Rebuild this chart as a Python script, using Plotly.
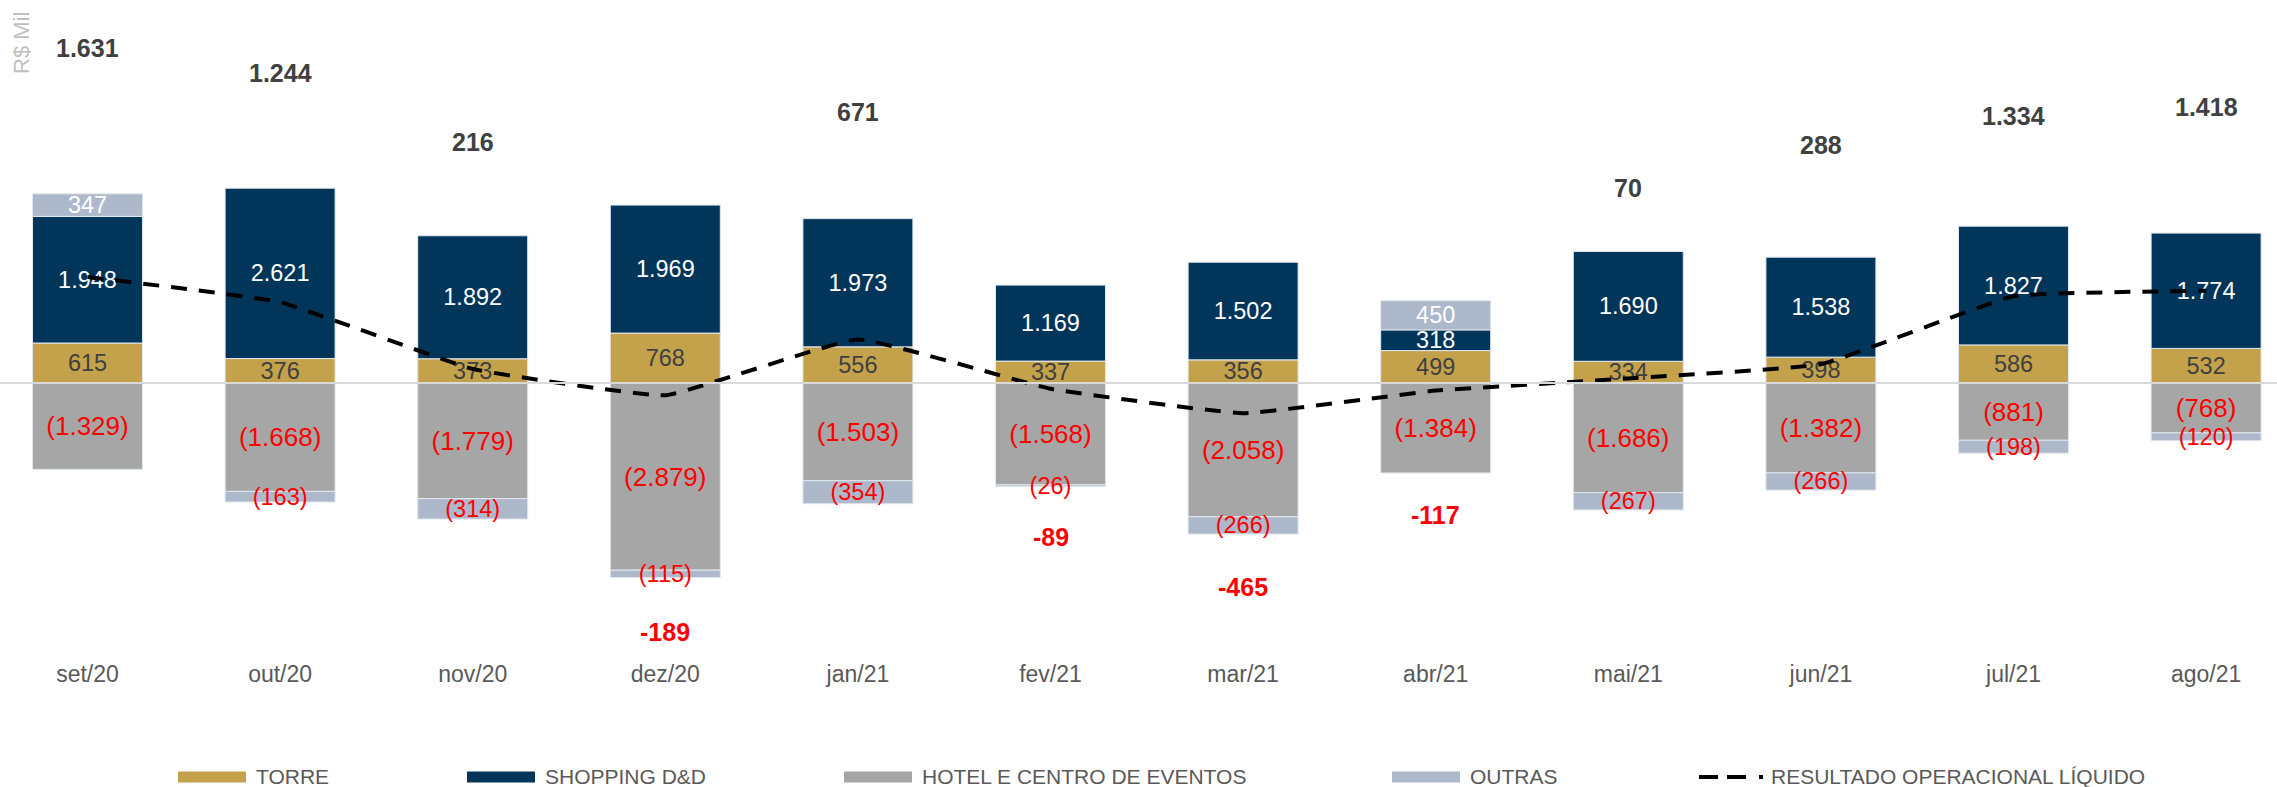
import plotly.graph_objects as go

# ---------------- data ----------------
MONTHS = ["set/20", "out/20", "nov/20", "dez/20", "jan/21", "fev/21",
          "mar/21", "abr/21", "mai/21", "jun/21", "jul/21", "ago/21"]
TORRE = [615, 376, 373, 768, 556, 337, 356, 499, 334, 398, 586, 532]
SHOPPING = [1948, 2621, 1892, 1969, 1973, 1169, 1502, 318, 1690, 1538, 1827, 1774]
HOTEL = [-1329, -1668, -1779, -2879, -1503, -1568, -2058, -1384, -1686, -1382, -881, -768]
OUTRAS = [347, -163, -314, -115, -354, -26, -266, 450, -267, -266, -198, -120]
RESULTADO = [1631, 1244, 216, -189, 671, -89, -465, -117, 70, 288, 1334, 1418]

SERIES_NAMES = ["TORRE", "SHOPPING D&D", "HOTEL E CENTRO DE EVENTOS", "OUTRAS",
                "RESULTADO OPERACIONAL LÍQUIDO"]
UNIT_LABEL = "R$ Mil"

# ---------------- style ----------------
W, H = 2277, 787
PLOT_TOP, PLOT_BOTTOM = 10, 650
FONT = "Liberation Sans, Arial, sans-serif"
C_TORRE = "#C4A24B"
C_SHOP = "#02355A"
C_HOTEL = "#A6A6A6"
C_OUTRAS = "#ADB9CA"
EDGE = dict(color="#E1E7EE", width=1)
LABEL_SIZE = 23.5
HOTEL_LABEL_SIZE = 26
# vertical pixel shift of each total label relative to its line point
RES_LABEL_SHIFT = [229, 229, 227, -237, 227, -148, -174, -124, 190, 219, 180, 184]


def br(v):
    return f"{abs(v):,}".replace(",", ".")


def fmt(v):
    return f"({br(v)})" if v < 0 else br(v)


def ypaper(p):
    return (PLOT_BOTTOM - p) / (PLOT_BOTTOM - PLOT_TOP)


def xpaper(p):
    return p / W


fig = go.Figure()


def add_bar(name, vals, color, txtcolors, size):
    fig.add_trace(go.Bar(
        x=MONTHS, y=vals, name=name,
        marker=dict(color=color, line=EDGE),
        text=[fmt(v) for v in vals],
        textposition="inside", insidetextanchor="middle", textangle=0,
        constraintext="none", cliponaxis=False,
        insidetextfont=dict(family=FONT, size=size, color=txtcolors),
        showlegend=False,
    ))


add_bar(SERIES_NAMES[0], TORRE, C_TORRE, ["#404040"] * len(TORRE), LABEL_SIZE)
add_bar(SERIES_NAMES[1], SHOPPING, C_SHOP, ["#FFFFFF"] * len(SHOPPING), LABEL_SIZE)
add_bar(SERIES_NAMES[2], HOTEL, C_HOTEL, ["#FF0000"] * len(HOTEL), HOTEL_LABEL_SIZE)
add_bar(SERIES_NAMES[3], OUTRAS, C_OUTRAS,
        ["#FFFFFF" if v > 0 else "#FF0000" for v in OUTRAS], LABEL_SIZE)

fig.add_trace(go.Scatter(
    x=MONTHS, y=RESULTADO, name=SERIES_NAMES[4], mode="lines",
    line=dict(color="#000000", width=4, dash="16px,12px", shape="spline", smoothing=0.3),
    showlegend=False, cliponaxis=False,
))

annotations = []
for m, v, s in zip(MONTHS, RESULTADO, RES_LABEL_SHIFT):
    annotations.append(dict(
        x=m, y=v, xref="x", yref="y", yshift=s, showarrow=False,
        text=f"<b>{v:,}</b>".replace(",", "."),
        font=dict(family=FONT, size=25, color="#404040" if v >= 0 else "#FF0000"),
        xanchor="center", yanchor="middle",
    ))

# unit label
annotations.append(dict(
    x=xpaper(22), y=ypaper(43), xref="paper", yref="paper", showarrow=False,
    text=UNIT_LABEL, textangle=-90, font=dict(family=FONT, size=22, color="#BFBFBF"),
    xanchor="center", yanchor="middle",
))

# manual legend (swatches + text)
shapes = []
LEG_Y = 776
swatch_x = [178, 467, 844, 1392]
swatch_colors = [C_TORRE, C_SHOP, C_HOTEL, C_OUTRAS]
for x0, col, name in zip(swatch_x, swatch_colors, SERIES_NAMES[:4]):
    shapes.append(dict(type="rect", xref="paper", yref="paper",
                       x0=xpaper(x0), x1=xpaper(x0 + 68),
                       y0=ypaper(LEG_Y + 1 - 5.5), y1=ypaper(LEG_Y + 1 + 5.5),
                       fillcolor=col, line=dict(width=0)))
    annotations.append(dict(x=xpaper(x0 + 76), y=ypaper(LEG_Y), xref="paper", yref="paper",
                            text=name, showarrow=False, xanchor="left", yanchor="middle",
                            height=22,
                            font=dict(family=FONT, size=21, color="#595959")))
shapes.append(dict(type="line", xref="paper", yref="paper",
                   x0=xpaper(1699), x1=xpaper(1764), y0=ypaper(LEG_Y + 1), y1=ypaper(LEG_Y + 1),
                   line=dict(color="#000000", width=4, dash="19px,9px,19px,13px,4px,40px")))
annotations.append(dict(x=xpaper(1769), y=ypaper(LEG_Y), xref="paper", yref="paper",
                        text=SERIES_NAMES[4], showarrow=False, xanchor="left", yanchor="middle",
                        height=22,
                        font=dict(family=FONT, size=21, color="#595959")))

# zero line
shapes.append(dict(type="line", xref="paper", yref="y", x0=0, x1=1, y0=0, y1=0,
                   line=dict(color="#D9D9D9", width=2), layer="above"))

PX_PER_CAT = 192.6
FIRST_CENTER = 87.5
fig.update_layout(
    width=W, height=H,
    margin=dict(l=0, r=0, t=PLOT_TOP, b=H - PLOT_BOTTOM, pad=0),
    barmode="relative", bargap=0.429,
    plot_bgcolor="white", paper_bgcolor="white",
    font=dict(family=FONT),
    xaxis=dict(type="category",
               range=[-FIRST_CENTER / PX_PER_CAT, (W - FIRST_CENTER) / PX_PER_CAT],
               showgrid=False, showline=False, zeroline=False, ticks="",
               ticklabelstandoff=8,
               tickfont=dict(family=FONT, size=23, color="#595959")),
    yaxis=dict(range=[-(PLOT_BOTTOM - 383) / 0.065, (383 - PLOT_TOP) / 0.065],
               visible=False, showgrid=False, zeroline=False),
    annotations=annotations,
    shapes=shapes,
)

fig.write_html("out.html", config={"displayModeBar": False},
               post_script="document.body.style.margin='0';document.body.style.overflow='hidden';")
